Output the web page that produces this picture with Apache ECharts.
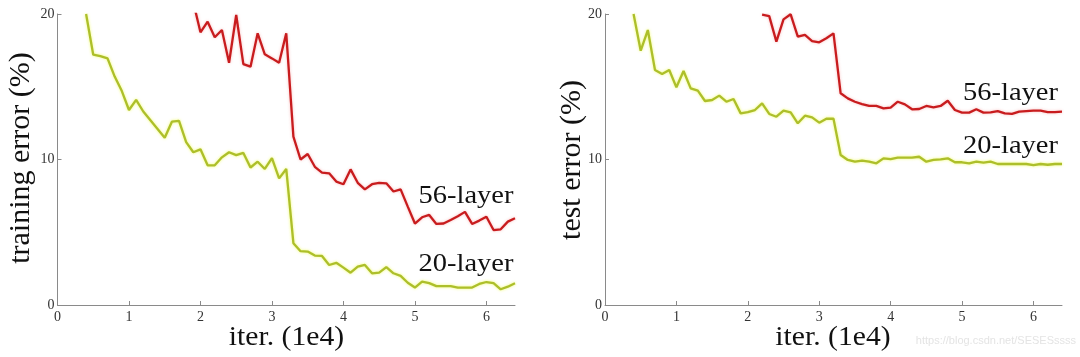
<!DOCTYPE html>
<html>
<head>
<meta charset="utf-8">
<script src="https://cdn.jsdelivr.net/npm/echarts@6/dist/echarts.min.js"></script>
<style>
html,body{margin:0;padding:0;background:#fff;}
#c{width:1080px;height:357px;}
</style>
</head>
<body>
<div id="c"></div>
<script>
// ---- data (iterations in 1e4, error in %) ----
const iters20 = [0.4,0.5,0.6,0.7,0.8,0.9,1.0,1.1,1.2,1.3,1.4,1.5,1.6,1.7,1.8,1.9,2.0,2.1,2.2,2.3,2.4,2.5,2.6,2.7,2.8,2.9,3.0,3.1,3.2,3.3,3.4,3.5,3.6,3.7,3.8,3.9,4.0,4.1,4.2,4.3,4.4,4.5,4.6,4.7,4.8,4.9,5.0,5.1,5.2,5.3,5.4,5.5,5.6,5.7,5.8,5.9,6.0,6.1,6.2,6.3,6.4];
const iters56Train = [1.9,2.0,2.1,2.2,2.3,2.4,2.5,2.6,2.7,2.8,2.9,3.0,3.1,3.2,3.3,3.4,3.5,3.6,3.7,3.8,3.9,4.0,4.1,4.2,4.3,4.4,4.5,4.6,4.7,4.8,4.9,5.0,5.1,5.2,5.3,5.4,5.5,5.6,5.7,5.8,5.9,6.0,6.1,6.2,6.3,6.4];
const iters56Test = [2.2,2.3,2.4,2.5,2.6,2.7,2.8,2.9,3.0,3.1,3.2,3.3,3.4,3.5,3.6,3.7,3.8,3.9,4.0,4.1,4.2,4.3,4.4,4.5,4.6,4.7,4.8,4.9,5.0,5.1,5.2,5.3,5.4,5.5,5.6,5.7,5.8,5.9,6.0,6.1,6.2,6.3,6.4];

const trainErr20 = [20,17.2,17.1,16.95,15.7,14.7,13.4,14.1,13.3,12.7,12.1,11.5,12.6,12.65,11.2,10.5,10.7,9.6,9.6,10.15,10.5,10.3,10.45,9.45,9.85,9.35,10.1,8.7,9.35,4.25,3.7,3.67,3.4,3.37,2.75,2.9,2.57,2.22,2.63,2.75,2.18,2.22,2.6,2.18,2.0,1.53,1.2,1.6,1.5,1.3,1.3,1.3,1.2,1.2,1.2,1.45,1.58,1.5,1.08,1.26,1.5];
const trainErr56 = [20.8,18.74,19.47,18.4,18.9,16.65,19.93,16.56,16.38,18.67,17.23,16.95,16.65,18.67,11.57,10.0,10.38,9.5,9.1,9.05,8.48,8.3,9.32,8.4,7.95,8.3,8.4,8.36,7.8,7.95,6.76,5.6,6.03,6.19,5.57,5.6,5.84,6.1,6.4,5.57,5.8,6.07,5.15,5.2,5.73,5.96];
const testErr20 = [20,17.48,18.9,16.15,15.88,16.15,14.96,16.08,14.89,14.73,14.02,14.09,14.39,13.97,14.16,13.17,13.26,13.4,13.86,13.13,12.94,13.36,13.24,12.49,13.01,12.9,12.53,12.8,12.8,10.31,9.97,9.85,9.92,9.85,9.74,10.08,10.03,10.13,10.13,10.13,10.19,9.85,9.97,10.01,10.08,9.81,9.81,9.74,9.85,9.78,9.85,9.69,9.69,9.69,9.69,9.69,9.62,9.69,9.64,9.69,9.69];
const testErr56 = [19.95,19.85,18.1,19.63,19.98,18.44,18.56,18.14,18.05,18.33,18.67,14.55,14.2,13.97,13.81,13.68,13.68,13.52,13.56,13.97,13.79,13.45,13.47,13.68,13.59,13.68,14.04,13.4,13.22,13.22,13.45,13.22,13.24,13.33,13.17,13.13,13.29,13.33,13.36,13.36,13.26,13.26,13.29];

const xTicks = [0,1,2,3,4,5,6];
const yTicks = [0,10,20];
const seriesNames = ['20-layer','56-layer'];
const yTitles = ['training error (%)','test error (%)'];
const xTitle = 'iter. (1e4)';

// ---- chart ----
const SERIF = '"Liberation Serif", "Times New Roman", serif';
const RED = '#c81c1e';
const OLIVE = '#adbf2a';
const toPairs = (xs, ys) => xs.map((x, i) => [x, ys[i]]);

function xAxisCfg(gi) {
  return {
    type: 'value', gridIndex: gi, min: 0, max: 6.4,
    axisLine: {show: true, lineStyle: {color: '#8a8a8a', width: 1}},
    axisTick: {show: true, inside: true, length: 4, customValues: xTicks, lineStyle: {color: '#8a8a8a'}},
    axisLabel: {customValues: xTicks, fontFamily: SERIF, fontSize: 14, color: '#333', margin: 5},
    splitLine: {show: false}
  };
}
function yAxisCfg(gi) {
  return {
    type: 'value', gridIndex: gi, min: 0, max: 20, interval: 10,
    axisLine: {show: true, lineStyle: {color: '#8a8a8a', width: 1}},
    axisTick: {show: true, inside: true, length: 4, lineStyle: {color: '#8a8a8a'}},
    axisLabel: {fontFamily: SERIF, fontSize: 14, color: '#333', margin: 3,
      customValues: yTicks},
    splitLine: {show: false}
  };
}
function lineSeries(name, gi, data, color, glow) {
  return {
    name, type: 'line', xAxisIndex: gi, yAxisIndex: gi, data,
    symbol: 'none', clip: true, silent: true,
    lineStyle: {color, width: 2.3, shadowColor: glow, shadowBlur: 3},
    itemStyle: {color}
  };
}
function txt(x, y, text, size, opts) {
  return Object.assign({
    type: 'text', x, y, silent: true,
    style: Object.assign({text, font: size + 'px ' + SERIF, fill: '#111', align: 'center', verticalAlign: 'middle'}, (opts && opts.style) || {})
  }, (opts && opts.el) || {});
}

const chart = echarts.init(document.getElementById('c'), null, {renderer: 'canvas'});
chart.setOption({
  animation: false,
  backgroundColor: '#fff',
  grid: [
    {left: 57.5, right: 565, top: 14, bottom: 52, containLabel: false},
    {left: 605, right: 18, top: 14, bottom: 52, containLabel: false}
  ],
  xAxis: [xAxisCfg(0), xAxisCfg(1)],
  yAxis: [yAxisCfg(0), yAxisCfg(1)],
  series: [
    lineSeries(seriesNames[0], 0, toPairs(iters20, trainErr20), OLIVE, 'rgba(235,250,60,0.75)'),
    lineSeries(seriesNames[1], 0, toPairs(iters56Train, trainErr56), RED, 'rgba(240,110,110,0.45)'),
    lineSeries(seriesNames[0], 1, toPairs(iters20, testErr20), OLIVE, 'rgba(235,250,60,0.75)'),
    lineSeries(seriesNames[1], 1, toPairs(iters56Test, testErr56), RED, 'rgba(240,110,110,0.45)')
  ],
  graphic: [
    // axis titles
    txt(21, 158, yTitles[0], 30, {el: {rotation: Math.PI / 2}}),
    txt(572, 160, yTitles[1], 30, {el: {rotation: Math.PI / 2}}),
    txt(286.5, 338, xTitle, 28, {el: {scaleX: 1.06}}),
    txt(833, 338, xTitle, 28, {el: {scaleX: 1.06}}),
    // series annotations
    txt(513.5, 196, seriesNames[1], 25, {el: {scaleX: 1.14}, style: {align: 'right'}}),
    txt(513.5, 264.5, seriesNames[0], 25, {el: {scaleX: 1.14}, style: {align: 'right'}}),
    txt(1058, 93, seriesNames[1], 25, {el: {scaleX: 1.14}, style: {align: 'right'}}),
    txt(1058, 146.5, seriesNames[0], 25, {el: {scaleX: 1.14}, style: {align: 'right'}}),
    // faint watermark
    {type: 'text', x: 1076, y: 341, silent: true,
     style: {text: 'https://blog.csdn.net/SESESssss', font: '11px "Liberation Sans", sans-serif', fill: '#e4e4e4', align: 'right', verticalAlign: 'middle'}}
  ]
});
</script>
</body>
</html>
